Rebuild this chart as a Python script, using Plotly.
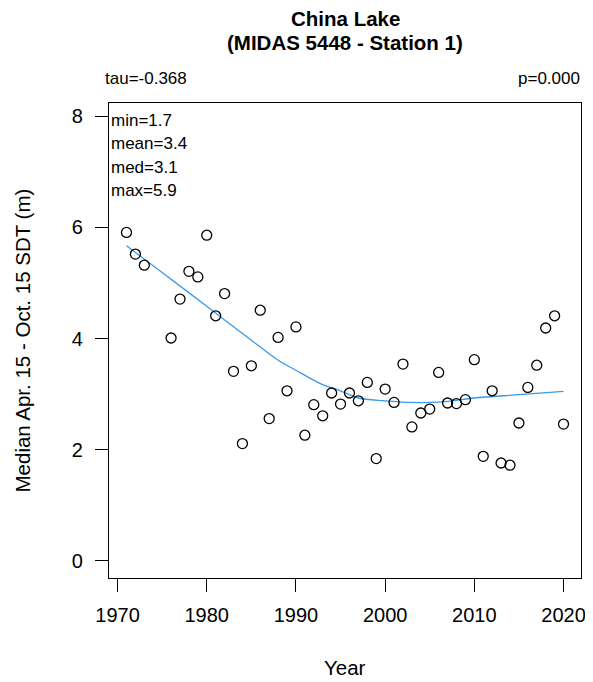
import plotly.graph_objects as go

years = [1971, 1972, 1973, 1976, 1977, 1978, 1979, 1980, 1981, 1982,
         1983, 1984, 1985, 1986, 1987, 1988, 1989, 1990, 1991, 1992,
         1993, 1994, 1995, 1996, 1997, 1998, 1999, 2000, 2001, 2002,
         2003, 2004, 2005, 2006, 2007, 2008, 2009, 2010, 2011, 2012,
         2013, 2014, 2015, 2016, 2017, 2018, 2019, 2020]
sdt = [5.91, 5.52, 5.32, 4.01, 4.71, 5.21, 5.11, 5.86, 4.41, 4.81,
       3.41, 2.11, 3.51, 4.51, 2.56, 4.02, 3.06, 4.21, 2.26, 2.81,
       2.61, 3.02, 2.82, 3.02, 2.88, 3.21, 1.84, 3.09, 2.85, 3.54,
       2.41, 2.66, 2.73, 3.39, 2.84, 2.83, 2.90, 3.62, 1.88, 3.06,
       1.76, 1.72, 2.48, 3.12, 3.52, 4.19, 4.41, 2.46]

smooth_years = [1971, 1975, 1980, 1985, 1988, 1990, 1993, 1995, 1997,
                2000, 2003, 2005, 2007, 2010, 2015, 2020]
smooth_vals = [5.67, 5.19, 4.58, 3.97, 3.61, 3.43, 3.17, 3.06, 2.93,
               2.88, 2.85, 2.85, 2.87, 2.93, 2.99, 3.05]

x_ticks = [1970, 1980, 1990, 2000, 2010, 2020]
y_ticks = [0, 2, 4, 6, 8]

title_lines = ["China Lake", "(MIDAS 5448 - Station 1)"]
tau_text = "tau=-0.368"
p_text = "p=0.000"
stats_text = ["min=1.7", "mean=3.4", "med=3.1", "max=5.9"]
x_title = "Year"
y_title = "Median Apr. 15 - Oct. 15 SDT (m)"

FONT = "Liberation Sans, Arial, sans-serif"

fig = go.Figure()
fig.add_trace(go.Scatter(
    x=smooth_years, y=smooth_vals, mode="lines",
    line=dict(color="#3A9AEA", width=1.3, shape="spline"),
    hoverinfo="skip", showlegend=False))
fig.add_trace(go.Scatter(
    x=years, y=sdt, mode="markers",
    marker=dict(symbol="circle-open", size=10, color="black",
                line=dict(color="black", width=1.3)),
    showlegend=False))

axis_common = dict(showgrid=False, zeroline=False, showline=True,
                   linecolor="black", linewidth=1.4, mirror=True,
                   ticks="outside", ticklen=13, tickwidth=1.3,
                   tickcolor="black",
                   tickfont=dict(family=FONT, size=20, color="black"))

fig.update_xaxes(range=[1969.04, 2021.96], tickvals=x_ticks,
                 ticklabelstandoff=6, **axis_common)
fig.update_yaxes(range=[-0.31, 8.24], tickvals=y_ticks,
                 ticklabelstandoff=8, **axis_common)

ann = []
ann.append(dict(text="<b>" + title_lines[0] + "</b>", x=0.5, y=1, xref="paper",
                yref="paper", yshift=85, yanchor="middle", showarrow=False,
                font=dict(family=FONT, size=20.5, color="black")))
ann.append(dict(text="<b>" + title_lines[1] + "</b>", x=0.5, y=1, xref="paper",
                yref="paper", yshift=61, yanchor="middle", showarrow=False,
                font=dict(family=FONT, size=20.5, color="black")))
ann.append(dict(text=tau_text, x=0, y=1, xref="paper", yref="paper",
                xanchor="left", yanchor="middle", yshift=25, xshift=-6,
                showarrow=False, font=dict(family=FONT, size=17, color="black")))
ann.append(dict(text=p_text, x=1, y=1, xref="paper", yref="paper",
                xanchor="right", yanchor="middle", yshift=25, xshift=1,
                showarrow=False, font=dict(family=FONT, size=17, color="black")))
for i, s in enumerate(stats_text):
    ann.append(dict(text=s, x=0, y=1, xref="paper", yref="paper",
                    xanchor="left", yanchor="middle", yshift=-17 - 23.5 * i,
                    xshift=0, showarrow=False,
                    font=dict(family=FONT, size=17, color="black")))
ann.append(dict(text=x_title, x=0.5, y=0, xref="paper", yref="paper",
                yanchor="middle", yshift=-89, showarrow=False,
                font=dict(family=FONT, size=20.5, color="black")))
ann.append(dict(text=y_title, x=0, y=0.5, xref="paper", yref="paper",
                xanchor="center", yanchor="middle", xshift=-87, textangle=-90,
                showarrow=False, font=dict(family=FONT, size=20.5, color="black")))

# page body has an 8px margin, so the figure is sized to fit inside the window
fig.update_layout(
    width=585, height=674,
    margin=dict(l=101, r=7, t=95, b=104),
    paper_bgcolor="white", plot_bgcolor="white",
    annotations=ann, showlegend=False,
    font=dict(family=FONT, color="black"))

fig.write_html("out.html")
